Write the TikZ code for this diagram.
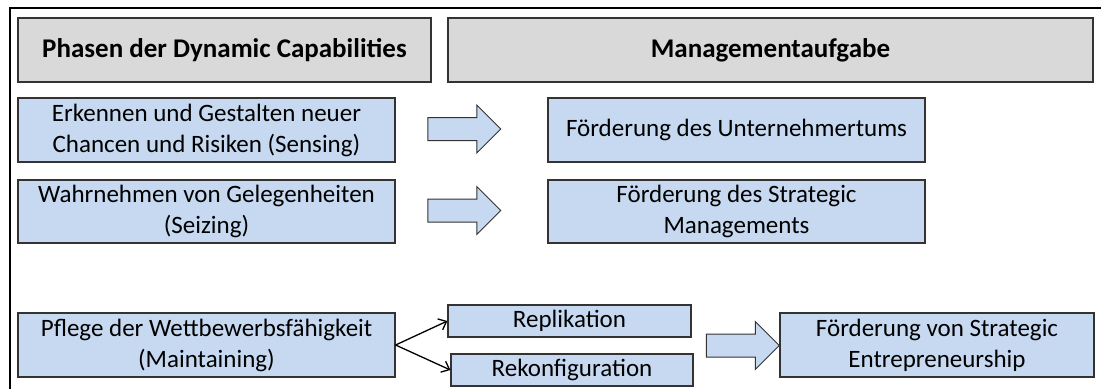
\documentclass[tikz,border=0pt]{standalone}
\usepackage{fontspec}
\setmainfont{Carlito}
\usepackage{xcolor}
\usetikzlibrary{arrows.meta,shapes.arrows}

\definecolor{headgray}{HTML}{D9D9D9}
\definecolor{phaseblue}{HTML}{C6D9F1}

\begin{document}
\begin{tikzpicture}[
					x=1pt, y=-1pt,
					head box/.style={draw=black!80, line width=1.2pt, fill=headgray, inner sep=0pt, minimum height=64pt, font=\fontsize{27}{32}\selectfont\bfseries},
					phase box/.style={draw=black!80, line width=1.2pt, fill=phaseblue, inner sep=0pt, minimum height=64pt, align=center, font=\fontsize{25}{31}\selectfont},
					small box/.style={phase box, minimum height=32pt},
					block arrow/.style={draw=black!80, line width=1pt, fill=phaseblue, single arrow, inner xsep=0pt, inner ysep=11pt, minimum height=73pt, single arrow head extend=12.5pt},
					branch/.style={draw=black, line width=1.3pt, -{Straight Barb[length=7pt,width=12pt]}},
				]
					\useasboundingbox (0,0) rectangle (1101,389);
					\draw[line width=2.2pt] (10,389) -- (10,8) -- (1101,8);
					
					\node[head box, minimum width=413pt] (phasen) at (224.5,50) {Phasen der Dynamic Capabilities};
					\node[head box, minimum width=645pt] (aufgabe) at (770.5,50) {Managementaufgabe};
					
					\node[phase box, minimum width=377pt] (sensing) at (206.5,130) {Erkennen und Gestalten neuer\\Chancen und Risiken (Sensing)};
					\node[phase box, minimum width=377pt, minimum height=63pt] (seizing) at (206.5,211.5) {Wahrnehmen von Gelegenheiten\\(Seizing)};
					\node[phase box, minimum width=377pt] (maintaining) at (206.5,345) {Pflege der Wettbewerbsfähigkeit\\(Maintaining)};
					
					\node[phase box, minimum width=377pt] (unternehmer) at (736.5,130) {Förderung des Unternehmertums};
					\node[phase box, minimum width=377pt, minimum height=63pt] (strategic) at (736.5,211.5) {Förderung des Strategic\\Managements};
					\node[small box, minimum width=243pt] (replikation) at (569.5,321) {Replikation};
					\node[small box, minimum width=242pt] (rekonfig) at (572,370) {Rekonfiguration};
					\node[phase box, minimum width=314pt] (entrepreneur) at (937,345) {Förderung von Strategic\\Entrepreneurship};
					
					\node[block arrow] (arrow1) at (458.5,129) {};
					\node[block arrow] (arrow2) at (458.5,210.5) {};
					\node[block arrow] (arrow3) at (737,345.5) {};
					
					\draw[branch] (maintaining.east) -- (replikation.west);
					\draw[branch] (maintaining.east) -- (rekonfig.west);
				\end{tikzpicture}
\end{document}
